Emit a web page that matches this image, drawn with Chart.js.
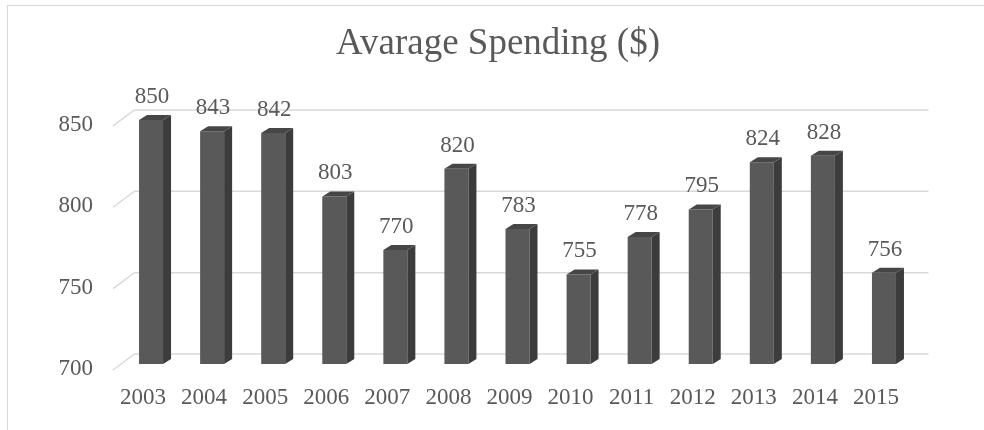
<!DOCTYPE html>
<html lang="en">
<head>
  <meta charset="UTF-8">
  <title>Avarage Spending</title>
  <script src="https://cdn.jsdelivr.net/npm/chart.js"></script>
  <style>
    html, body { margin: 0; padding: 0; background: #fff; }
    body { width: 984px; height: 430px; overflow: hidden; position: relative; }
    .frame {
      position: absolute; left: 7px; top: 5px;
      width: 1000px; height: 500px;
      border: 1px solid #d9d9d9; box-sizing: border-box;
    }
    .chart-box { position: absolute; left: 0; top: 0; width: 984px; height: 430px; }
  </style>
</head>
<body>
  <div class="frame"></div>
  <div class="chart-box">
    <canvas id="spendChart" width="984" height="430"></canvas>
  </div>

  <script>
    // Yearly spending
    const years = ['2003', '2004', '2005', '2006', '2007', '2008', '2009',
                   '2010', '2011', '2012', '2013', '2014', '2015'];
    const spending = [850, 843, 842, 803, 770, 820, 783, 755, 778, 795, 824, 828, 756];
    const yTicks = [700, 750, 800, 850];

    const textGray = '#595959';
    const serif = "'Liberation Serif', 'Times New Roman', serif";

    // 3D look: depth of each column and where the back wall / front edge sit
    const DEPTH_X = 8, DEPTH_Y = 5;
    const WALL_X = 14, WALL_Y = 10;
    const FRONT_X = -7.5, FRONT_Y = 6;

    const wallGrid = {
      id: 'wallGrid',
      beforeDatasetsDraw(chart) {
        const { ctx, chartArea, scales } = chart;
        ctx.save();
        ctx.strokeStyle = '#d9d9d9';
        ctx.lineWidth = 1.5;
        yTicks.forEach(v => {
          const y = scales.y.getPixelForValue(v);
          ctx.beginPath();
          ctx.moveTo(chartArea.left + FRONT_X, y + FRONT_Y);
          ctx.lineTo(chartArea.left + WALL_X, y - WALL_Y);
          ctx.lineTo(chartArea.right + WALL_X, y - WALL_Y);
          ctx.stroke();
        });
        ctx.restore();
      }
    };

    const columns3d = {
      id: 'columns3d',
      afterDatasetsDraw(chart) {
        const { ctx } = chart;
        const meta = chart.getDatasetMeta(0);
        ctx.save();
        meta.data.forEach((bar, i) => {
          const x0 = bar.x - bar.width / 2;
          const x1 = bar.x + bar.width / 2;
          const top = bar.y, bottom = bar.base;

          // right side
          ctx.fillStyle = '#3c3c3c';
          ctx.beginPath();
          ctx.moveTo(x1, top);
          ctx.lineTo(x1 + DEPTH_X, top - DEPTH_Y);
          ctx.lineTo(x1 + DEPTH_X, bottom - DEPTH_Y);
          ctx.lineTo(x1, bottom);
          ctx.closePath();
          ctx.fill();

          // top
          ctx.fillStyle = '#464646';
          ctx.beginPath();
          ctx.moveTo(x0, top);
          ctx.lineTo(x0 + DEPTH_X, top - DEPTH_Y);
          ctx.lineTo(x1 + DEPTH_X, top - DEPTH_Y);
          ctx.lineTo(x1, top);
          ctx.closePath();
          ctx.fill();

          // value label
          ctx.fillStyle = textGray;
          ctx.font = '23px ' + serif;
          ctx.textAlign = 'center';
          ctx.textBaseline = 'alphabetic';
          ctx.fillText(String(spending[i]), bar.x + 1, top - 17);
        });
        ctx.restore();
      }
    };

    new Chart(document.getElementById('spendChart'), {
      type: 'bar',
      data: {
        labels: years,
        datasets: [{
          data: spending,
          base: 700,
          backgroundColor: '#595959',
          borderWidth: 0,
          barPercentage: 0.393,
          categoryPercentage: 1
        }]
      },
      options: {
        responsive: false,
        animation: false,
        events: [],
        layout: { padding: { left: 12, right: 0, top: 0, bottom: 0 } },
        plugins: {
          legend: { display: false },
          tooltip: { enabled: false },
          title: {
            display: true,
            text: 'Avarage Spending ($)',
            color: textGray,
            font: { family: serif, size: 37, weight: 'normal' },
            padding: { top: 22.5, bottom: 53 }
          }
        },
        scales: {
          x: {
            grid: { display: false, drawTicks: false },
            border: { display: false },
            ticks: {
              color: textGray,
              font: { family: serif, size: 23 },
              padding: 20,
              labelOffset: -8,
              maxRotation: 0
            },
            afterFit(scale) { scale.height = 66; }
          },
          y: {
            min: 700,
            max: 850,
            grid: { display: false, drawTicks: false },
            border: { display: false },
            ticks: {
              stepSize: 50,
              color: textGray,
              font: { family: serif, size: 23 },
              padding: 27.5,
              labelOffset: 5
            },
            afterFit(scale) { scale.width = 108.5; }
          },
          // empty right margin beside the plot
          yRight: {
            position: 'right',
            grid: { display: false, drawTicks: false },
            border: { display: false },
            ticks: { display: false },
            afterFit(scale) { scale.width = 69.5; }
          }
        }
      },
      plugins: [wallGrid, columns3d]
    });
  </script>
</body>
</html>
